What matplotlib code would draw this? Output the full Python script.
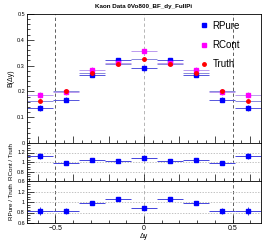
import matplotlib.pyplot as plt
from matplotlib.lines import Line2D
import numpy as np

plt.rcParams['font.family'] = ['Liberation Sans', 'DejaVu Sans']

# 9 bins in delta-y
edges = np.linspace(-0.66, 0.66, 10)
centers = 0.5 * (edges[:-1] + edges[1:])
half_w = 0.5 * (edges[1] - edges[0])

rpure = [0.136, 0.168, 0.265, 0.320, 0.289, 0.320, 0.265, 0.168, 0.136]
rpure_err = [0.012, 0.011, 0.010, 0.009, 0.010, 0.009, 0.010, 0.011, 0.012]
rcont = [0.186, 0.198, 0.283, 0.310, 0.355, 0.310, 0.283, 0.198, 0.186]
rcont_err = [0.012, 0.011, 0.010, 0.009, 0.011, 0.009, 0.010, 0.011, 0.012]
truth = [0.164, 0.200, 0.270, 0.306, 0.326, 0.306, 0.270, 0.200, 0.164]
truth_err = [0.004, 0.004, 0.004, 0.004, 0.004, 0.004, 0.004, 0.004, 0.004]

ratio_cont = [1.13, 0.98, 1.05, 1.02, 1.09, 1.02, 1.05, 0.98, 1.13]
ratio_cont_err = [0.06, 0.04, 0.03, 0.025, 0.03, 0.025, 0.03, 0.04, 0.06]
ratio_pure = [0.83, 0.83, 0.98, 1.05, 0.88, 1.05, 0.98, 0.83, 0.83]
ratio_pure_err = [0.07, 0.05, 0.03, 0.03, 0.03, 0.03, 0.03, 0.05, 0.07]

fig = plt.figure(figsize=(2.66, 2.42), dpi=100)
left, width = 27 / 266, 234 / 266
ax = fig.add_axes([left, 1 - 143 / 242, width, 129 / 242])
ax1 = fig.add_axes([left, 1 - 181 / 242, width, 38 / 242])
ax2 = fig.add_axes([left, 1 - 223 / 242, width, 42 / 242])

def style(a):
    a.set_xlim(-0.66, 0.66)
    a.tick_params(direction='in', which='both', labelsize=4, length=5, width=0.5, pad=1.5,
                  right=False, top=False)
    a.tick_params(which='minor', length=2.5)
    a.minorticks_on()
    for s in a.spines.values():
        s.set_linewidth(0.6)
    a.axvline(-0.5, color='#444444', ls=(0, (4, 3)), lw=0.6, zorder=0)
    a.axvline(0.5, color='#444444', ls=(0, (4, 3)), lw=0.6, zorder=0)
    a.axvline(0.0, color='#aaaaaa', ls=(0, (4, 3)), lw=0.6, zorder=0)

# main panel
style(ax)
ax.errorbar(centers, rpure, yerr=rpure_err, xerr=half_w, fmt='s', color='blue',
            ms=3, elinewidth=0.7, ecolor='#5555dd')
ax.errorbar(centers, rcont, yerr=rcont_err, xerr=half_w, fmt='s', color='magenta',
            ms=3, elinewidth=0.7, ecolor='#bb99ee')
ax.errorbar(centers, truth, yerr=truth_err, xerr=half_w, fmt='o', color='red',
            ms=2.5, elinewidth=0.7, ecolor='#8888dd')
ax.set_ylim(0, 0.5)
ax.set_yticks([0, 0.1, 0.2, 0.3, 0.4, 0.5])
ax.set_yticklabels(['0', '0.1', '0.2', '0.3', '0.4', '0.5'])
ax.set_xticklabels([])
ax.set_ylabel('B(Δy)', fontsize=5, labelpad=2)
ax.set_title('Kaon Data 0Vo800_BF_dy_FullPi', fontsize=4.5, fontweight='bold', pad=4)
handles = [Line2D([], [], ls='none', marker='s', ms=2.5, color='blue'),
           Line2D([], [], ls='none', marker='s', ms=2.5, color='magenta'),
           Line2D([], [], ls='none', marker='o', ms=2.5, color='red')]
ax.legend(handles, ['RPure', 'RCont', 'Truth'], loc='upper right', fontsize=7,
          frameon=False, handletextpad=0.3, handlelength=1.2, labelspacing=0.95,
          bbox_to_anchor=(0.94, 1.0), borderaxespad=0.3)

# ratio panels
for a, vals, errs, lab in [(ax1, ratio_cont, ratio_cont_err, 'RCont / Truth'),
                           (ax2, ratio_pure, ratio_pure_err, 'RPure / Truth')]:
    style(a)
    for yv in [0.8, 1.0, 1.2]:
        a.axhline(yv, color='#aaaaaa', ls=(0, (2, 2)), lw=0.5, zorder=0)
    a.errorbar(centers, vals, yerr=errs, xerr=half_w, fmt='s', color='blue',
               ms=2.5, elinewidth=0.7, ecolor='#4444dd')
    a.set_ylim(0.6, 1.4)
    a.set_yticks([0.6, 0.8, 1.0, 1.2])
    a.set_yticklabels(['0.6', '0.8', '1', '1.2'])
    a.set_ylabel(lab, fontsize=4.5, labelpad=2)

ax1.set_xticklabels([])
ax2.set_xticks([-0.5, 0, 0.5])
ax2.set_xticklabels(['−0.5', '0', '0.5'], fontsize=5)
ax2.set_xlabel('Δy', fontsize=5, labelpad=1)

fig.savefig('out.png', dpi=100)
